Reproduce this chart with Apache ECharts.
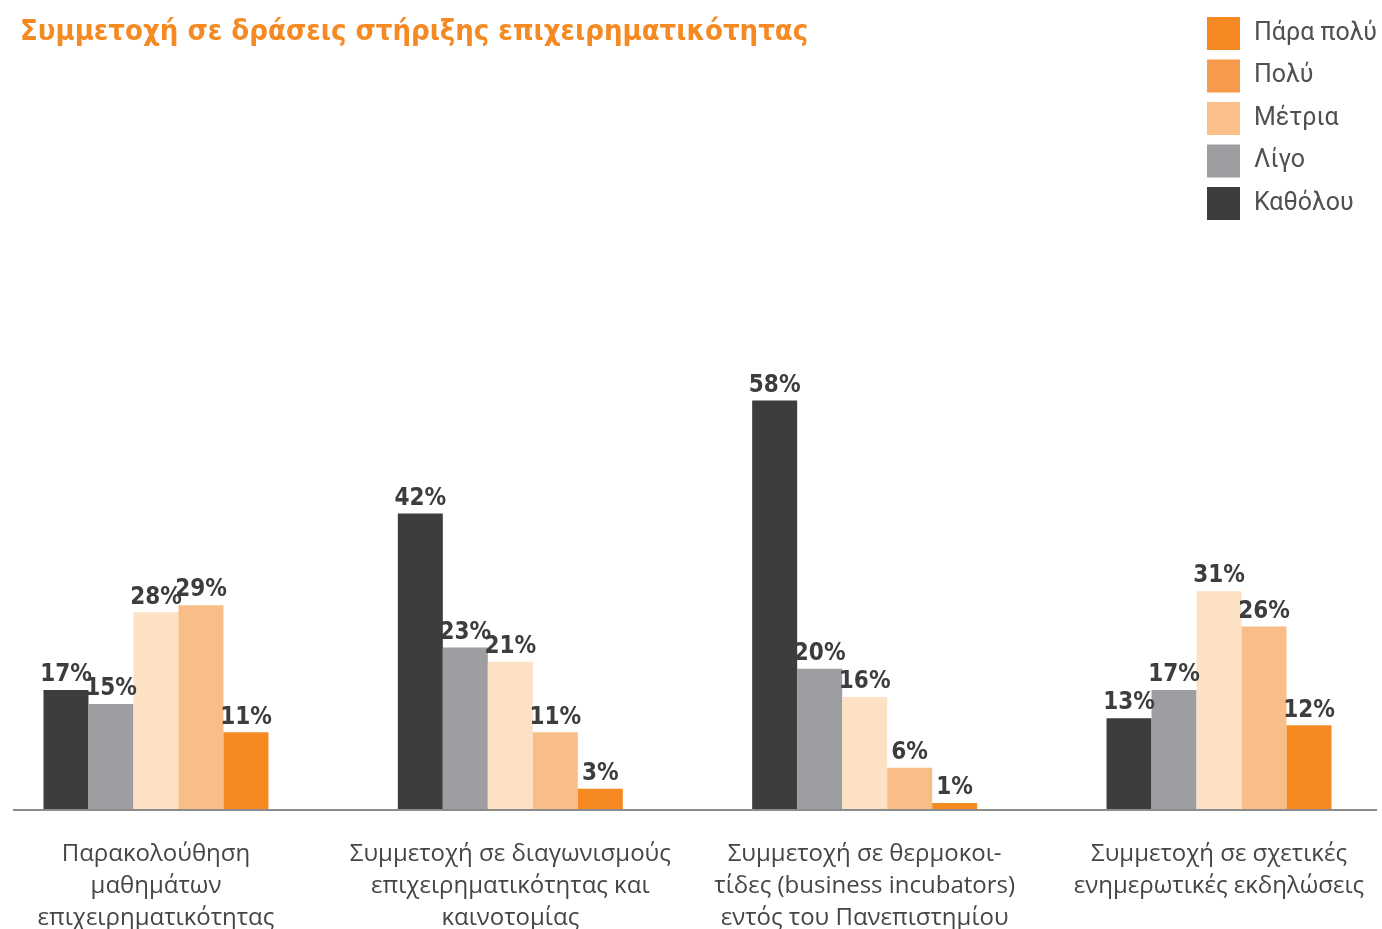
<!DOCTYPE html>
<html>
<head>
<meta charset="utf-8">
<script src="https://cdn.jsdelivr.net/npm/echarts@6/dist/echarts.min.js"></script>
<style>
  html, body { margin: 0; padding: 0; background: #fff; }
  #chart { width: 1382px; height: 929px; }
</style>
</head>
<body>
<div id="chart"></div>
<script>
// Activities and the share of answers per level of participation (%)
const categories = [
  'Παρακολούθηση\nμαθημάτων\nεπιχειρηματικότητας',
  'Συμμετοχή σε διαγωνισμούς\nεπιχειρηματικότητας και\nκαινοτομίας',
  'Συμμετοχή σε θερμοκοι-\nτίδες (business incubators)\nεντός του Πανεπιστημίου',
  'Συμμετοχή σε σχετικές\nενημερωτικές εκδηλώσεις'
];
const seriesNames = ['Καθόλου', 'Λίγο', 'Μέτρια', 'Πολύ', 'Πάρα πολύ'];
const kathólou = [17, 42, 58, 13];
const lígo     = [15, 23, 20, 17];
const métria   = [28, 21, 16, 31];
const polý     = [29, 11, 6, 26];
const párapolý = [11, 3, 1, 12];
const legendOrder = ['Πάρα πολύ', 'Πολύ', 'Μέτρια', 'Λίγο', 'Καθόλου'];

const barColors = {
  'Καθόλου': '#3d3d3d',
  'Λίγο': '#9d9ea2',
  'Μέτρια': '#fde1c5',
  'Πολύ': '#f9be87',
  'Πάρα πολύ': '#f58a22'
};
const legendColors = {
  'Πάρα πολύ': '#f58a22',
  'Πολύ': '#f79b4a',
  'Μέτρια': '#fbbf8a',
  'Λίγο': '#9d9ea2',
  'Καθόλου': '#3d3d3d'
};
const values = [kathólou, lígo, métria, polý, párapolý];

const chart = echarts.init(document.getElementById('chart'));

const series = seriesNames.map((name, i) => ({
  name: name,
  type: 'bar',
  data: values[i],
  barWidth: 45,
  barGap: '0%',
  itemStyle: { color: barColors[name] },
  label: {
    show: true,
    position: 'top',
    distance: 3,
    formatter: '{c}%',
    color: '#3d3d3d',
    fontFamily: 'DejaVu Sans Condensed',
    fontWeight: 'bold',
    fontSize: 24
  }
}));

chart.setOption({
  animation: false,
  backgroundColor: '#ffffff',
  title: {
    text: 'Συμμετοχή σε δράσεις στήριξης επιχειρηματικότητας',
    left: 20,
    top: 18,
    padding: 0,
    textStyle: {
      color: '#f58a22',
      fontFamily: 'DejaVu Sans Condensed',
      fontWeight: 'bold',
      fontSize: 29
    }
  },
  legend: {
    orient: 'vertical',
    left: 1207,
    top: 17,
    padding: 0,
    itemWidth: 33,
    itemHeight: 33,
    itemGap: 9.5,
    icon: 'rect',
    data: legendOrder.map(n => ({ name: n, itemStyle: { color: legendColors[n] } })),
    textStyle: {
      color: '#505050',
      fontFamily: 'Roboto',
      fontSize: 25,
      padding: [2, 0, 0, 9]
    }
  },
  grid: {
    left: -21.2,
    right: -14.2,
    top: 104,
    bottom: 119,
    containLabel: false,
    outerBoundsMode: 'none'
  },
  xAxis: {
    type: 'category',
    data: categories,
    axisLine: { show: false },
    axisTick: { show: false },
    axisLabel: {
      interval: 0,
      margin: 28,
      color: '#454545',
      fontFamily: 'Open Sans',
      fontSize: 24,
      lineHeight: 32
    }
  },
  yAxis: {
    type: 'value',
    min: 0,
    max: 100,
    show: false,
    splitLine: { show: false }
  },
  graphic: [{
    type: 'line',
    z: 10,
    shape: { x1: 13, y1: 810, x2: 1377, y2: 810 },
    style: { stroke: '#8c8c8c', lineWidth: 2 }
  }],
  series: series
});
</script>
</body>
</html>
